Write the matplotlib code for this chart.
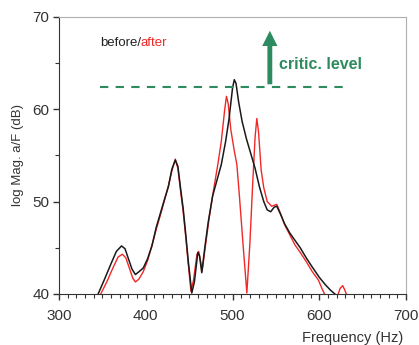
import matplotlib.pyplot as plt
from matplotlib.ticker import MultipleLocator

# кривая "до" (черная)
freq_before = [345, 352, 360, 366, 372, 376, 380, 384, 388, 392, 397, 402, 407, 412, 417,
               422, 426, 430, 434, 437, 440, 443, 446, 449, 453, 456, 460, 462, 464.5, 468,
               472, 477, 482, 487, 492, 496, 500, 502, 504, 507, 511, 516, 521, 526, 531,
               536, 540, 544, 548, 551, 555, 560, 566, 572, 578, 585, 592, 600, 607, 613, 618]
mag_before = [40.0, 41.5, 43.3, 44.6, 45.2, 44.9, 43.8, 42.7, 42.1, 42.4, 42.8, 43.8, 45.2, 47.2, 48.8,
              50.4, 51.6, 53.5, 54.5, 53.8, 51.5, 49.3, 46.5, 43.5, 40.1, 41.3, 44.5, 44.1, 42.3, 45.0,
              47.8, 50.6, 52.3, 54.0, 56.5, 59.0, 62.3, 63.2, 62.8, 60.8, 58.7, 56.8, 55.2, 53.6, 51.6,
              50.0, 49.1, 48.9, 49.4, 49.5, 48.7, 47.6, 46.6, 45.8, 45.0, 43.9, 42.9, 41.8, 41.0, 40.4, 40.0]

# кривая "после" (красная)
freq_after = [348, 355, 362, 368, 373, 377, 381, 385, 388, 392, 397, 402, 407, 412, 417,
              422, 426, 430, 434, 437, 440, 443, 446, 449, 452, 455, 459, 461, 463, 465,
              469, 473, 478, 483, 487, 491, 493, 495, 498, 502, 505, 508, 512, 516.5, 520,
              523, 526, 528, 530, 533, 536, 540, 545, 551, 555, 560, 566, 572, 578, 585,
              592, 599, 603, 606, 612, 620, 624, 627, 630, 633]
mag_after = [40.0, 41.3, 42.8, 44.0, 44.3, 43.9, 42.8, 41.7, 41.3, 41.6, 42.4, 43.6, 45.2, 47.0, 48.6,
             50.3, 51.7, 53.3, 54.6, 53.6, 51.2, 49.0, 46.2, 43.2, 40.3, 41.5, 44.3, 44.6, 43.6, 42.5,
             45.4, 48.2, 51.2, 54.0, 56.5, 60.0, 61.4, 60.6, 57.8, 55.5, 54.0, 50.5, 45.5, 40.1, 45.5,
             51.5, 57.0, 59.0, 57.5, 53.4, 51.5, 50.0, 49.5, 49.7, 48.8, 47.5, 46.4, 45.3, 44.5, 43.5,
             42.4, 41.5, 40.6, 40.0, 39.0, 39.5, 40.6, 40.9, 40.3, 39.5]

critic_level = 62.4
critic_x = [347, 632]
green = '#2e8b5f'

fig = plt.figure(figsize=(4.19, 3.45), dpi=100)
ax = fig.add_axes([0.141, 0.148, 0.828, 0.803])

ax.plot(freq_after, mag_after, color='#f02828', lw=1.0)
ax.plot(freq_before, mag_before, color='#1a1a1a', lw=1.1)

# критический уровень
ax.plot(critic_x, [critic_level, critic_level], color=green, lw=1.5, ls=(0, (4, 3.5)))
ax.annotate('', xy=(543, 68.8), xytext=(543, critic_level),
            arrowprops=dict(arrowstyle='simple,head_width=1.1,head_length=1.1,tail_width=0.35',
                            color=green, lw=0))
ax.text(553, 64.9, 'critic. level', color=green, fontsize=11.5, fontweight='bold',
        family='Liberation Sans', va='center')

t1 = ax.text(347, 66.8, 'before/', color='#222222', fontsize=9.5, family='Liberation Sans',
             va='baseline')
ax.annotate('after', xy=(1, 0), xycoords=t1, va='bottom', color='#f02828', fontsize=9.5,
            family='Liberation Sans')

ax.set_xlim(300, 700)
ax.set_ylim(40, 70)
ax.xaxis.set_major_locator(MultipleLocator(100))
ax.xaxis.set_minor_locator(MultipleLocator(10))
ax.yaxis.set_major_locator(MultipleLocator(10))
ax.yaxis.set_minor_locator(MultipleLocator(5))
ax.tick_params(which='major', length=4, width=1, color='#333333', labelsize=11,
               labelcolor='#333333', labelfontfamily='Liberation Sans', pad=3)
ax.tick_params(which='minor', length=3, width=0.8, color='#333333')
ax.tick_params(axis='x', pad=7)

for s in ['left', 'bottom']:
    ax.spines[s].set_color('#333333')
for s in ['top', 'right']:
    ax.spines[s].set_color('#b0b0b0')

ax.set_ylabel('log Mag. a/F (dB)', fontsize=9.5, family='Liberation Sans', color='#333333', labelpad=6)
ax.set_xlabel('Frequency (Hz)', fontsize=10.5, family='Liberation Sans', color='#333333')
ax.xaxis.set_label_coords(0.845, -0.135)

fig.savefig('out.png', dpi=100)
